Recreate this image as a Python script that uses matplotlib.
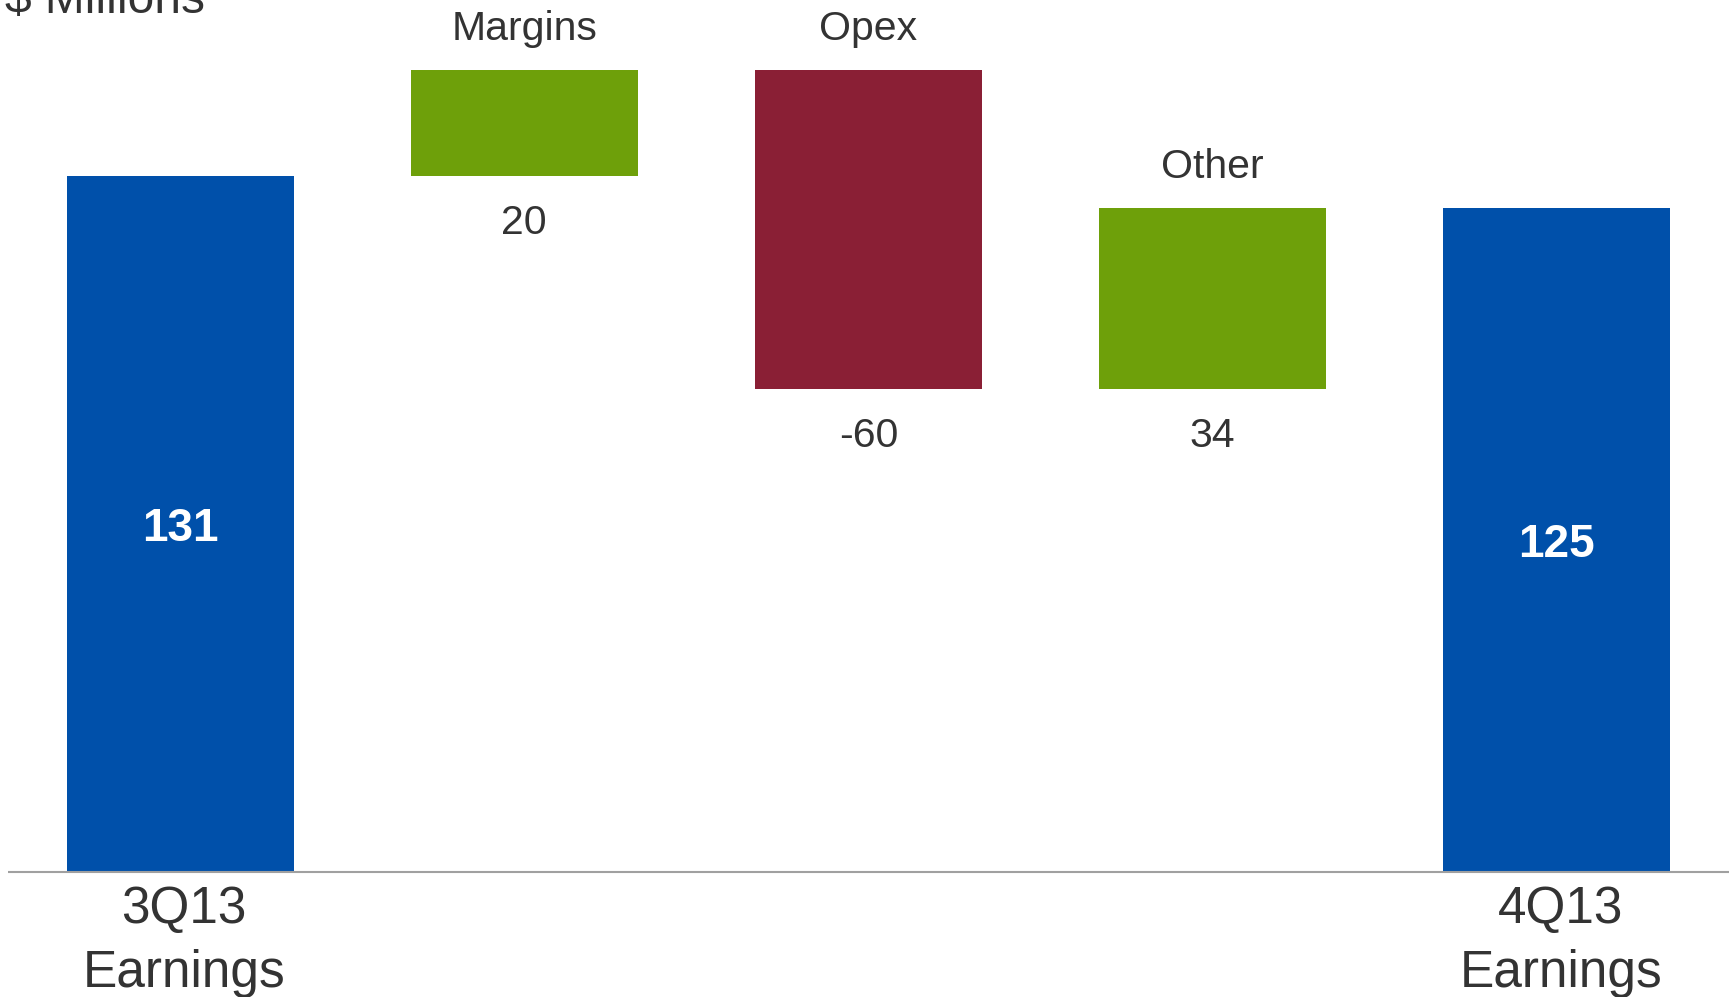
import matplotlib.pyplot as plt

# Earnings bridge, $ millions
categories = ["3Q13\nEarnings", "Margins", "Opex", "Other", "4Q13\nEarnings"]
values = [131, 20, -60, 34, 125]
kinds = ["total", "delta", "delta", "delta", "total"]

BLUE = "#0050aa"
GREEN = "#6ea00a"
RED = "#8a1f35"
TEXT = "#333333"

plt.rcParams["font.family"] = ["Liberation Sans", "DejaVu Sans"]

W, H = 1729, 997
fig = plt.figure(figsize=(W / 100, H / 100), dpi=100)
ax = fig.add_axes([8 / W, 0, 1 - 8 / W, 1])

px_per_unit = 696 / 131
base_px = 872
ax.set_xlim(-0.5, 4.5)
ax.set_ylim(-(H - base_px) / px_per_unit, base_px / px_per_unit)
ax.axis("off")

PT = 72 / 100  # pixels -> points

running = 0
for i, (cat, val, kind) in enumerate(zip(categories, values, kinds)):
    if kind == "total":
        running = val
        ax.bar(i, val, width=0.66, color=BLUE, zorder=2)
        ax.annotate(str(val), (i, val / 2), xytext=(0, -17 * PT),
                    textcoords="offset points", ha="center", va="baseline",
                    fontsize=33, fontweight="bold", color="white")
        for j, line in enumerate(cat.split("\n")):
            ax.annotate(line, (i, 0), xytext=(4 * PT, -(51 + 64 * j) * PT),
                        textcoords="offset points", ha="center", va="baseline",
                        fontsize=37, color=TEXT)
    else:
        bottom = min(running, running + val)
        top = max(running, running + val)
        running += val
        ax.bar(i, top - bottom, bottom=bottom, width=0.66,
               color=GREEN if val > 0 else RED, zorder=2)
        ax.annotate(cat, (i, top), xytext=(0, 30 * PT),
                    textcoords="offset points", ha="center", va="baseline",
                    fontsize=29.5, color=TEXT)
        ax.annotate(str(val), (i, bottom), xytext=(0, -58 * PT),
                    textcoords="offset points", ha="center", va="baseline",
                    fontsize=29.5, color=TEXT)

ax.axhline(0, color="#a0a0a0", lw=1.5, zorder=3)

fig.text(5 / W, 1 - 13 / H, "$ Millions", ha="left", va="baseline",
         fontsize=34.5, color=TEXT)

fig.savefig("out.png", dpi=100)
